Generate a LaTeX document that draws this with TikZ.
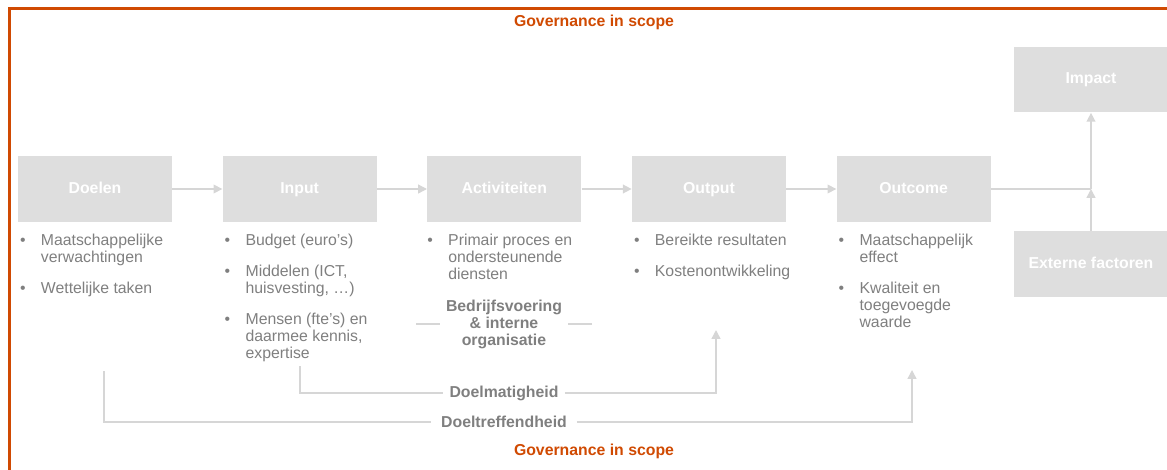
\documentclass[tikz,border=0pt]{standalone}
\usepackage{fontspec}
\setmainfont{Liberation Sans}
\usepackage{xcolor}
\usetikzlibrary{positioning,arrows.meta}

\definecolor{pwcorange}{HTML}{D04A02}
\definecolor{boxgrey}{HTML}{DEDEDE}
\definecolor{linegrey}{HTML}{D6D6D6}
\definecolor{textgrey}{HTML}{7F7F7F}

\newcommand{\itm}{\textbullet&}
\newcommand{\lijst}[1]{\begin{tabular}{@{}p{11.9pt}@{}l@{}}#1\end{tabular}}

\begin{document}
\begin{tikzpicture}[x=0.02cm, y=-0.02cm,
      every node/.style={font=\fontsize{9}{9.7}\selectfont},
      stap/.style={fill=boxgrey, text=white, font=\fontsize{9}{9.7}\selectfont\bfseries,
                   minimum width=3.08cm, minimum height=1.32cm, inner sep=0pt,
                   text height=6.5pt, text depth=1.5pt},
      lijst/.style={anchor=north west, inner sep=0pt, text=textgrey},
      kop/.style={text=textgrey, font=\fontsize{9}{9.7}\selectfont\bfseries, align=center},
      lijn/.style={draw=linegrey, line width=0.8pt},
      pijl/.style={lijn, -{Triangle[width=5pt,length=5pt]}}]
      \useasboundingbox (0,0) rectangle (1167,470);
      \draw[pwcorange, line width=2pt] (9.3,470) -- (9.3,8.7) -- (1167,8.7);

      \node[stap] (doelen) at (95,189) {Doelen};
      \node[stap, right=1.0cm of doelen] (input) {Input};
      \node[stap, right=1.0cm of input] (activiteiten) {Activiteiten};
      \node[stap, right=1.0cm of activiteiten] (output) {Output};
      \node[stap, right=1.0cm of output] (outcome) {Outcome};
      \node[stap] (impact) at (1091,79.5) {Impact};
      \node[stap] (extern) at (1091,264) {Externe factoren};

      \draw[pijl] (doelen) -- (input);
      \draw[pijl] (input) -- (activiteiten);
      \draw[pijl] (activiteiten) -- (output);
      \draw[pijl] (output) -- (outcome);
      \coordinate (knoop) at (impact |- outcome);
      \draw[lijn] (outcome) -- (knoop);
      \draw[pijl] (knoop) -- (impact);
      \draw[pijl] (extern) -- (knoop);

      \node[lijst] (doelenlijst) at ([shift={(2,11)}]doelen.south west)
            {\lijst{\itm Maatschappelijke\\ & verwachtingen\\[7.9pt]
                    \itm Wettelijke taken}};
      \node[lijst] (inputlijst) at ([shift={(2,11)}]input.south west)
            {\lijst{\itm Budget (euro’s)\\[7.9pt]
                    \itm Middelen (ICT,\\ & huisvesting, …)\\[7.9pt]
                    \itm Mensen (fte’s) en\\ & daarmee kennis,\\ & expertise}};
      \node[lijst] (activiteitenlijst) at ([shift={(0,11)}]activiteiten.south west)
            {\lijst{\itm Primair proces en\\ & ondersteunende\\ & diensten}};
      \node[lijst] (outputlijst) at ([shift={(2,11)}]output.south west)
            {\lijst{\itm Bereikte resultaten\\[7.9pt]
                    \itm Kostenontwikkeling}};
      \node[lijst] (outcomelijst) at ([shift={(2,11)}]outcome.south west)
            {\lijst{\itm Maatschappelijk\\ & effect\\[7.9pt]
                    \itm Kwaliteit en\\ & toegevoegde\\ & waarde}};

      \node[kop] (bedrijf) at (504,324) {Bedrijfsvoering\\\& interne\\organisatie};
      \coordinate (bvlinks) at (416,324);
      \coordinate (bvrechts) at (592,324);
      \draw[lijn] (bvlinks) -- (bedrijf);
      \draw[lijn] (bvrechts) -- (bedrijf);

      \node[kop, inner sep=3.5pt] (doelmatig) at (504,393) {Doelmatigheid};
      \coordinate (dmstart) at (300,366);
      \coordinate (dmeind) at (716,330);
      \draw[lijn] (dmstart) |- (doelmatig.west);
      \draw[pijl] (doelmatig.east) -| (dmeind);

      \node[kop, inner sep=5.5pt] (doeltreffend) at (504,422) {Doeltreffendheid};
      \coordinate (dtstart) at (104,371);
      \coordinate (dteind) at (912,370);
      \draw[lijn] (dtstart) |- (doeltreffend.west);
      \draw[pijl] (doeltreffend.east) -| (dteind);

      \node[text=pwcorange, font=\fontsize{9}{9.7}\selectfont\bfseries] (govboven) at (594,22) {Governance in scope};
      \node[text=pwcorange, font=\fontsize{9}{9.7}\selectfont\bfseries] (govonder) at (594,451) {Governance in scope};
\end{tikzpicture}
\end{document}
